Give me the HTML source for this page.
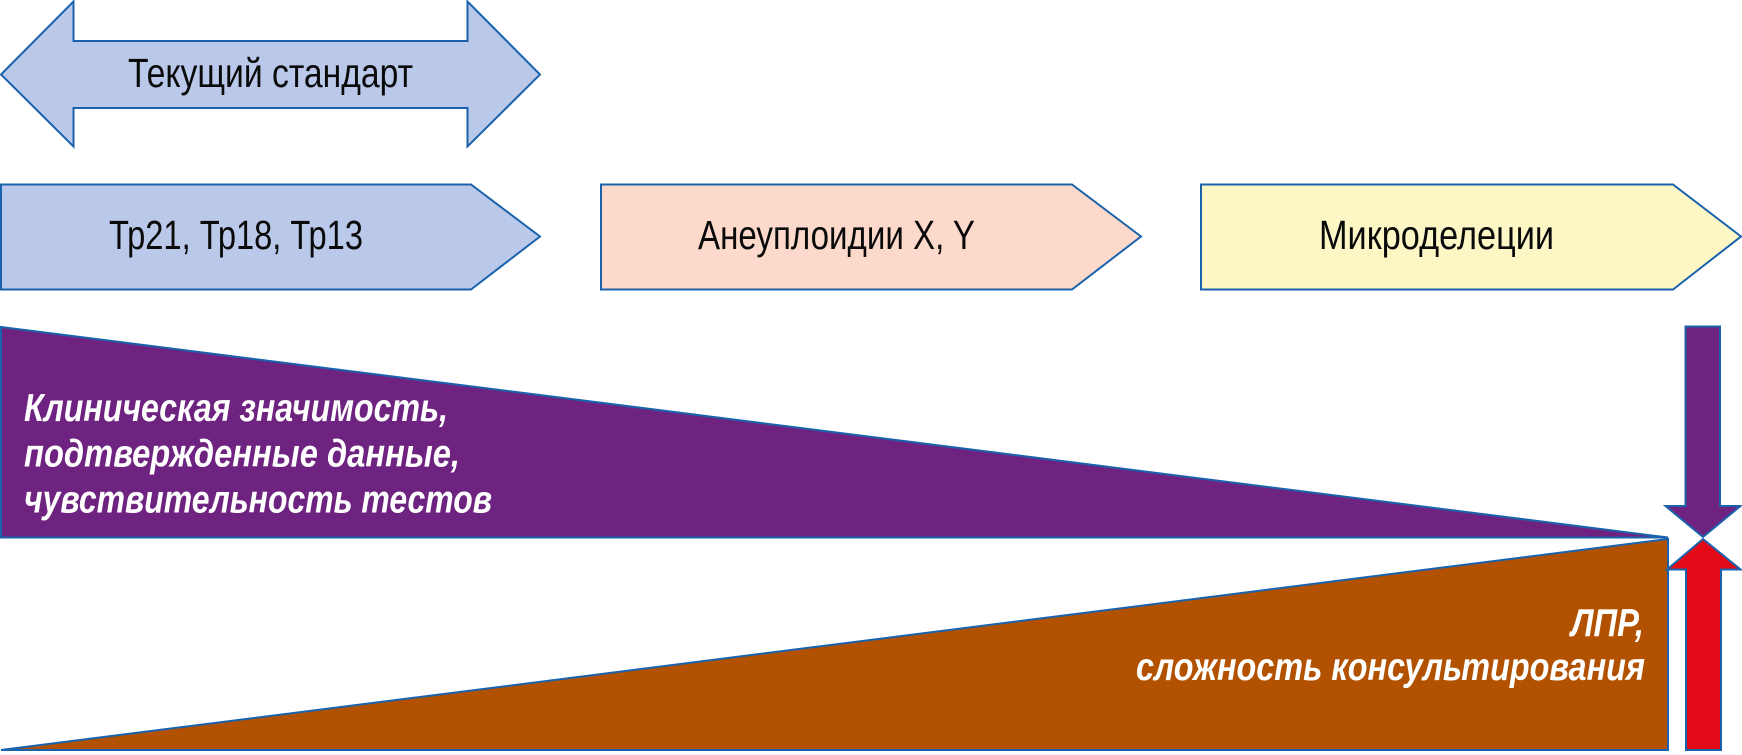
<!DOCTYPE html>
<html lang="ru">
<head>
<meta charset="utf-8">
<title>Diagram</title>
<style>
html,body{margin:0;padding:0;background:#fff;width:1742px;height:755px;overflow:hidden}
svg{display:block}
text{font-family:"Liberation Sans",sans-serif}
.d{font-size:41px;fill:#0a0a0a}
.w{font-size:39px;font-weight:bold;font-style:italic;fill:#fff}
.s{stroke:#1b62ad;stroke-width:2;stroke-linejoin:miter}
</style>
</head>
<body>
<svg width="1742" height="755" viewBox="0 0 1742 755" xmlns="http://www.w3.org/2000/svg">
<polygon class="s" fill="#bac9e9" points="1,74.5 73.5,1.5 73.5,41 467.5,41 467.5,1.5 540,74.5 467.5,146.5 467.5,108 73.5,108 73.5,146.5"/>
<text class="d" x="128" y="87" textLength="285" lengthAdjust="spacingAndGlyphs">Текущий стандарт</text>

<polygon class="s" fill="#bac9e9" points="1,184.5 471,184.5 540,236.5 471,289.5 1,289.5"/>
<text class="d" x="109" y="249" textLength="254" lengthAdjust="spacingAndGlyphs">Тр21, Тр18, Тр13</text>

<polygon class="s" fill="#fcd9cb" points="601,184.5 1072,184.5 1141,236.5 1072,289.5 601,289.5"/>
<text class="d" x="698" y="249" textLength="277" lengthAdjust="spacingAndGlyphs">Анеуплоидии X, Y</text>

<polygon class="s" fill="#fdf6c5" points="1201,184.5 1673,184.5 1741,236.5 1673,289.5 1201,289.5"/>
<text class="d" x="1319" y="249" textLength="235" lengthAdjust="spacingAndGlyphs">Микроделеции</text>

<polygon class="s" fill="#6f2380" points="1,327 1668,537.5 1,537.5"/>
<text class="w" x="24" y="421" textLength="424" lengthAdjust="spacingAndGlyphs">Клиническая значимость,</text>
<text class="w" x="24" y="466.5" textLength="436" lengthAdjust="spacingAndGlyphs">подтвержденные данные,</text>
<text class="w" x="24" y="512.5" textLength="468" lengthAdjust="spacingAndGlyphs">чувствительность тестов</text>

<polygon class="s" fill="#b25200" points="1,750 1668,539 1668,750"/>
<text class="w" x="1571" y="636" textLength="73" lengthAdjust="spacingAndGlyphs">ЛПР,</text>
<text class="w" x="1136" y="680" textLength="509" lengthAdjust="spacingAndGlyphs">сложность консультирования</text>

<polygon class="s" fill="#6f2380" points="1685.5,326.5 1720,326.5 1720,506 1740.5,506 1703,537 1665.5,506 1685.5,506"/>
<polygon class="s" fill="#e30a17" points="1703,539 1740.5,569.5 1721,569.5 1721,750 1686,750 1686,569.5 1667,569.5"/>
</svg>
</body>
</html>
